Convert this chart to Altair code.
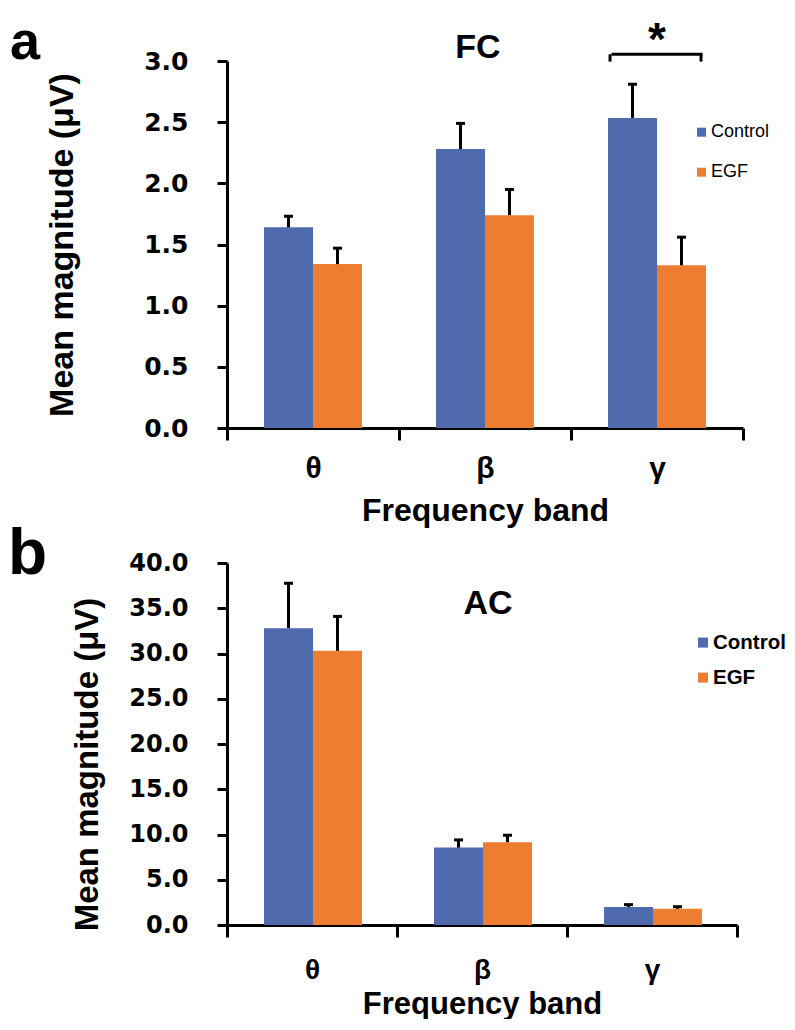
import altair as alt
import pandas as pd

# ---------------- data ----------------
bands = ["θ", "β", "γ"]
groups = ["Control", "EGF"]

fc_control = [1.64, 2.28, 2.535]
fc_control_top = [1.73, 2.49, 2.81]
fc_egf = [1.34, 1.74, 1.33]
fc_egf_top = [1.47, 1.95, 1.56]

ac_control = [32.8, 8.55, 2.0]
ac_control_top = [37.75, 9.4, 2.25]
ac_egf = [30.3, 9.15, 1.8]
ac_egf_top = [34.1, 9.92, 2.02]

fc_ticks = [0.0, 0.5, 1.0, 1.5, 2.0, 2.5, 3.0]
ac_ticks = [0.0, 5.0, 10.0, 15.0, 20.0, 25.0, 30.0, 35.0, 40.0]

panel_letters = ["a", "b"]
panel_titles = ["FC", "AC"]
sig_band = ["γ"]
sig_mark = ["*"]

BLUE = "#4F6BAE"
ORANGE = "#ED7D31"
FONT = "Liberation Sans"
NUM_FONT = "DejaVu Sans"

COLOR_SCALE = alt.Scale(domain=groups, range=[BLUE, ORANGE])


def make_df(ctrl, ctrl_top, egf, egf_top):
    rows = []
    for i, b in enumerate(bands):
        rows.append({"band": b, "group": "Control", "mean": ctrl[i], "top": ctrl_top[i]})
        rows.append({"band": b, "group": "EGF", "mean": egf[i], "top": egf_top[i]})
    return pd.DataFrame(rows)


def legend_layers(sq_x, sq_size, ys, txt_x, txt_size, txt_weight):
    ldf = pd.DataFrame({"group": groups})
    out = []
    for g, yv in zip(groups, ys):
        c = alt.Chart(ldf).transform_filter(alt.datum.group == g)
        out.append(c.mark_square(size=sq_size, opacity=1, filled=True).encode(
            x=alt.value(sq_x), y=alt.value(yv),
            color=alt.Color("group:N", scale=COLOR_SCALE, legend=None)))
        out.append(c.mark_text(font=FONT, fontSize=txt_size, fontWeight=txt_weight,
                               align="left", baseline="middle", color="black").encode(
            x=alt.value(txt_x), y=alt.value(yv), text="group:N"))
    return out


def panel(df, letter, title, ticks, ymax, width, height, num_size, ytitle_x, ytitle_y,
          ytitle_size, label_pad_x, xlabel_size, title_y_x, xtitle_size, legend,
          letter_size, letter_x, letter_y, title_x, title_y, extra_layers=None):
    x = alt.X("band:N", sort=bands,
              scale=alt.Scale(paddingInner=0, paddingOuter=0),
              axis=alt.Axis(title="Frequency band", tickBand="extent", labelAngle=0,
                            labelFont=FONT, labelFontSize=xlabel_size,
                            labelFontWeight="bold",
                            labelColor="black", labelBaseline="alphabetic",
                            labelPadding=label_pad_x, tickSize=12, tickWidth=3,
                            tickColor="black", domainWidth=3, domainColor="black",
                            titleFont=FONT, titleFontSize=xtitle_size,
                            titleFontWeight="bold",
                            titleColor="black", titleBaseline="alphabetic",
                            titleY=title_y_x, grid=False))
    xo = alt.XOffset("group:N", sort=groups,
                     scale=alt.Scale(paddingInner=0, paddingOuter=0.755))
    y = alt.Y("mean:Q", scale=alt.Scale(domain=[0, ymax], nice=False, zero=True),
              axis=alt.Axis(title="Mean magnitude (μV)", values=ticks, format=".1f",
                            labelFont=NUM_FONT, labelFontSize=num_size,
                            labelFontWeight="bold", labelColor="black",
                            labelPadding=29, tickSize=10, tickWidth=3,
                            tickColor="black", domainWidth=3, domainColor="black",
                            titleFont=FONT, titleFontSize=ytitle_size,
                            titleFontWeight="bold", titleColor="black",
                            titleBaseline="alphabetic", titleX=ytitle_x,
                            titleY=ytitle_y, grid=False))
    color = alt.Color("group:N", sort=groups, scale=COLOR_SCALE, legend=None)
    base = alt.Chart(df)
    bars = base.mark_bar(opacity=1).encode(x=x, xOffset=xo, y=y, color=color)
    err = base.mark_rule(color="black", strokeWidth=3, opacity=1).encode(
        x=x, xOffset=xo, y="mean:Q", y2="top:Q")
    cap = base.mark_tick(color="black", size=9, thickness=3, opacity=1).encode(
        x=x, xOffset=xo, y="top:Q")
    letter_t = alt.Chart(pd.DataFrame({"t": [letter]})).mark_text(
        font=FONT, fontSize=letter_size, fontWeight="bold", align="left",
        baseline="alphabetic", color="black").encode(
        text="t:N", x=alt.value(letter_x), y=alt.value(letter_y))
    title_t = alt.Chart(pd.DataFrame({"t": [title]})).mark_text(
        font=FONT, fontSize=34, fontWeight="bold", align="center",
        baseline="alphabetic", color="black").encode(
        text="t:N", x=alt.value(title_x), y=alt.value(title_y))
    layers = [bars, err, cap, letter_t, title_t] + legend_layers(**legend)
    if extra_layers:
        layers += extra_layers()
    return alt.layer(*layers).properties(width=width, height=height)


def sig_layers():
    sdf = pd.DataFrame({"band": sig_band, "t": sig_mark})
    xb = alt.X("band:N", sort=bands)
    hline = alt.Chart(sdf).mark_tick(color="black", size=91, thickness=3,
                                     opacity=1).encode(x=xb, y=alt.datum(3.055))
    left = alt.Chart(sdf).mark_rule(color="black", strokeWidth=3, opacity=1).encode(
        x=alt.X("band:N", sort=bands, bandPosition=0.227),
        y=alt.datum(3.055), y2=alt.datum(2.995))
    right = alt.Chart(sdf).mark_rule(color="black", strokeWidth=3, opacity=1).encode(
        x=alt.X("band:N", sort=bands, bandPosition=0.756),
        y=alt.datum(3.055), y2=alt.datum(2.995))
    star = alt.Chart(sdf).mark_text(font=FONT, fontSize=46, fontWeight="bold",
                                    baseline="alphabetic", align="center",
                                    color="black").encode(
        x=xb, y=alt.datum(3.045), text="t:N")
    return [hline, left, right, star]


df_fc = make_df(fc_control, fc_control_top, fc_egf, fc_egf_top)
df_ac = make_df(ac_control, ac_control_top, ac_egf, ac_egf_top)

panel_a = panel(df_fc, panel_letters[0], panel_titles[0], fc_ticks, 3.0, 516, 367, 25,
                -155, 183.5, 34, 37, 30, 92.5, 32,
                dict(sq_x=474.5, sq_size=81, ys=[71.2, 111.2], txt_x=484,
                     txt_size=18, txt_weight="normal"),
                54, -217, -2.5, 251, -3.5, extra_layers=sig_layers)

panel_b = panel(df_ac, panel_letters[1], panel_titles[1], ac_ticks, 40.0, 510, 362, 24,
                -130, 201, 33, 41, 28, 88, 31,
                dict(sq_x=476, sq_size=100, ys=[79.6, 114.6], txt_x=486,
                     txt_size=20.5, txt_weight="bold"),
                64, -219, 10.6, 261, 50.6)

chart = alt.vconcat(panel_a, panel_b, spacing=135, bounds="flush").properties(
    padding={"top": 7, "left": 0, "right": 0, "bottom": 0},
    background="white",
).configure_view(strokeWidth=0)

chart.save("out.html", embed_options={"renderer": "svg", "actions": False})
